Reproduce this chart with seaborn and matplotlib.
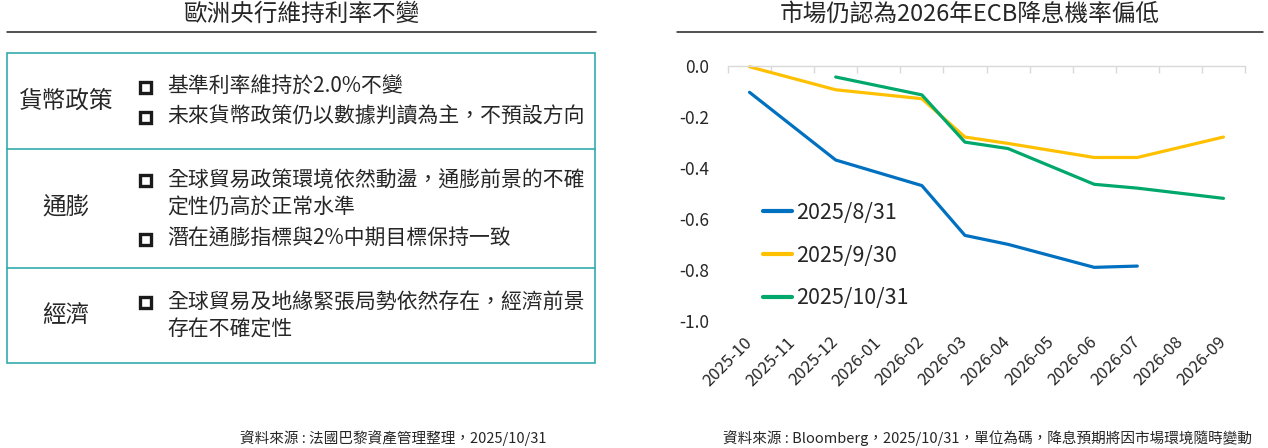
import numpy as np
import pandas as pd
import matplotlib
matplotlib.use("Agg")
import matplotlib.pyplot as plt
from matplotlib.patches import Rectangle
from matplotlib.lines import Line2D
from matplotlib.ticker import FixedLocator
import seaborn as sns

# ---------------- data ----------------
months = ['2025-10', '2025-11', '2025-12', '2026-01', '2026-02', '2026-03',
          '2026-04', '2026-05', '2026-06', '2026-07', '2026-08', '2026-09']

series_names = ['2025/8/31', '2025/9/30', '2025/10/31']
series_colors = ['#0070C0', '#FFC000', '#00A86B']

s1_months = ['2025-10', '2025-12', '2026-02', '2026-03', '2026-04', '2026-06', '2026-07']
s1_values = [-0.105, -0.37, -0.47, -0.665, -0.70, -0.79, -0.785]

s2_months = ['2025-10', '2025-12', '2026-02', '2026-03', '2026-04', '2026-06', '2026-07', '2026-09']
s2_values = [-0.005, -0.095, -0.13, -0.28, -0.305, -0.36, -0.36, -0.28]

s3_months = ['2025-12', '2026-02', '2026-03', '2026-04', '2026-06', '2026-07', '2026-09']
s3_values = [-0.045, -0.115, -0.30, -0.325, -0.465, -0.48, -0.52]

y_ticks = [0.0, -0.2, -0.4, -0.6, -0.8, -1.0]
y_tick_labels = ['0.0', '-0.2', '-0.4', '-0.6', '-0.8', '-1.0']

left_title = '歐洲央行維持利率不變'
right_title = '市場仍認為2026年ECB降息機率偏低'
left_source = '資料來源 : 法國巴黎資產管理整理，2025/10/31'
right_source = '資料來源 : Bloomberg，2025/10/31，單位為碼，降息預期將因市場環境隨時變動'

table_headers = ['貨幣政策', '通膨', '經濟']
table_lines = [
    [('基準利率維持於2.0%不變', True), ('未來貨幣政策仍以數據判讀為主，不預設方向', True)],
    [('全球貿易政策環境依然動盪，通膨前景的不確', True), ('定性仍高於正常水準', False),
     ('潛在通膨指標與2%中期目標保持一致', True)],
    [('全球貿易及地緣緊張局勢依然存在，經濟前景', True), ('存在不確定性', False)],
]

# ---------------- style ----------------
sns.set_theme(style='white')
plt.rcParams['font.family'] = ['Noto Sans CJK TC', 'DejaVu Sans']
plt.rcParams['axes.unicode_minus'] = False

W, H = 1268, 448
fig = plt.figure(figsize=(W / 100, H / 100), dpi=100)
fig.patch.set_facecolor('white')

def fx(px):
    return px / W

def fy(py):
    return 1 - py / H

TXT = '#262626'

# ---------------- titles & rules ----------------
fig.text(fx(301), fy(14), left_title, ha='center', va='center', fontsize=17, color=TXT)
fig.text(fx(970), fy(14), right_title, ha='center', va='center', fontsize=17, color=TXT)
fig.add_artist(Line2D([fx(7), fx(596)], [fy(32.3), fy(32.3)], color='#222222', lw=1.1))
fig.add_artist(Line2D([fx(677), fx(1263)], [fy(32.3), fy(32.3)], color='#222222', lw=1.1))

# ---------------- table ----------------
TEAL = '#33AAAD'
tbl_left, tbl_right, tbl_top, tbl_bottom = 7, 595, 53.3, 363
fig.add_artist(Rectangle((fx(tbl_left), fy(tbl_bottom)), fx(tbl_right) - fx(tbl_left),
                         fy(tbl_top) - fy(tbl_bottom), transform=fig.transFigure,
                         fill=False, edgecolor=TEAL, lw=1.2))
for sep in [149, 268]:
    fig.add_artist(Line2D([fx(tbl_left), fx(tbl_right)], [fy(sep), fy(sep)], color=TEAL, lw=1.2))

header_y = [101.5, 208, 315]
line_y = [[86.7, 116.7], [180.5, 208, 238.5], [302, 330]]
for hdr, hy, lines, ly in zip(table_headers, header_y, table_lines, line_y):
    fig.text(fx(66), fy(hy), hdr, ha='center', va='center', fontsize=17, color=TXT)
    for (txt, bullet), yy in zip(lines, ly):
        fig.text(fx(167), fy(yy), txt, ha='left', va='center', fontsize=15, color=TXT)
        if bullet:
            s = 11
            fig.add_artist(Rectangle((fx(145 - s / 2), fy(yy + 0.5 + s / 2)), s / W, s / H,
                                     transform=fig.transFigure, fill=False,
                                     edgecolor='#1a1a1a', lw=2.4))

# ---------------- line chart ----------------
rows = []
for name, ms, vs in zip(series_names, [s1_months, s2_months, s3_months],
                        [s1_values, s2_values, s3_values]):
    for m, v in zip(ms, vs):
        rows.append({'series': name, 'month': m, 'x': months.index(m), 'value': v})
df = pd.DataFrame(rows)

ax = fig.add_axes([fx(728), fy(321), fx(1245) - fx(728), fy(65.5) - fy(321)])
sns.lineplot(data=df, x='x', y='value', hue='series', hue_order=series_names,
             palette=series_colors, linewidth=2.3, ax=ax, sort=True, estimator=None)
for ln in ax.get_lines():
    ln.set_clip_on(False)
    ln.set_solid_capstyle('round')

ax.set_xlim(-0.5, 11.5)
ax.set_ylim(-1.0, 0.0)
for sp in ['left', 'right', 'bottom']:
    ax.spines[sp].set_visible(False)
ax.spines['top'].set_color('#D9D9D9')
ax.spines['top'].set_linewidth(1.0)
ax.set_xlabel('')
ax.set_ylabel('')
ax.set_facecolor('none')

ax.set_yticks(y_ticks, y_tick_labels)
ax.tick_params(axis='y', length=0, pad=13.5, labelsize=12.5, labelcolor=TXT)
ax.set_xticks(range(len(months)))
ax.set_xticklabels(months, rotation=45, ha='right', va='center', rotation_mode='anchor')
ax.tick_params(axis='x', which='major', length=0, pad=13.5, labelsize=12, labelcolor=TXT)
ax.xaxis.set_minor_locator(FixedLocator(np.arange(-0.5, 12, 1)))
ax.tick_params(axis='x', which='minor', top=True, bottom=False, direction='in',
               length=5, width=1, color='#D9D9D9')

handles, labels = ax.get_legend_handles_labels()
ax.legend(handles, labels, loc='center left', bbox_to_anchor=(fx(763), fy(255.5)),
          bbox_transform=fig.transFigure, frameon=False, fontsize=15.5,
          handlelength=1.35, handletextpad=0.2, labelspacing=0.97,
          borderpad=0, borderaxespad=0, labelcolor=TXT)
for lh in ax.get_legend().get_lines():
    lh.set_linewidth(3)

# ---------------- sources ----------------
fig.text(fx(547), fy(438), left_source, ha='right', va='center', fontsize=10.5, color=TXT)
fig.text(fx(1252), fy(438), right_source, ha='right', va='center', fontsize=10.5, color=TXT)

fig.savefig('out.png', dpi=100, facecolor='white')
